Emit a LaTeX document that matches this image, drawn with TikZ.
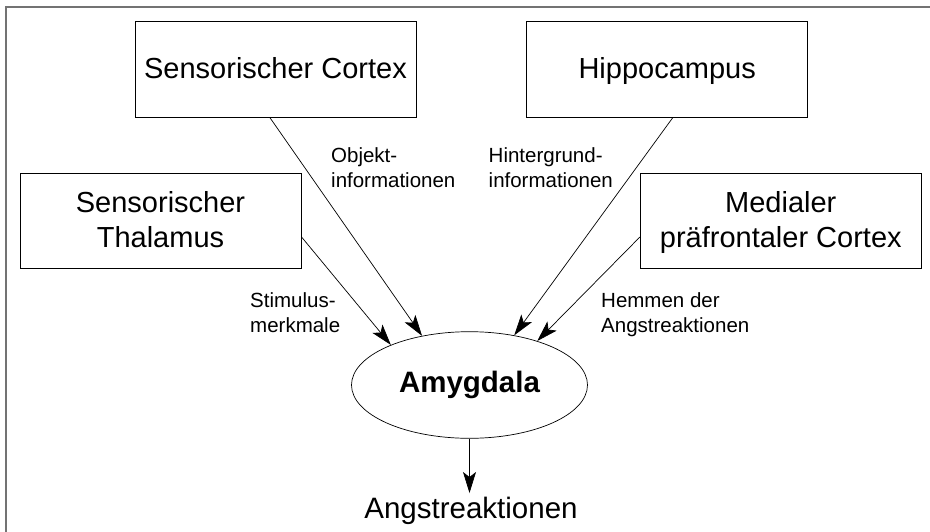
\documentclass[tikz,border=0pt]{standalone}
\usepackage{fontspec}
\setmainfont{Liberation Sans}
\usetikzlibrary{arrows.meta,shapes.geometric,calc}
\begin{document}
\begin{tikzpicture}[x=1pt,y=-1pt,
  box/.style={draw=black, line width=0.8pt, minimum width=281pt, minimum height=95.5pt,
    align=center, font=\fontsize{29}{35}\selectfont, text depth=0.25em, inner sep=0pt},
  lab/.style={align=left, font=\fontsize{20.5}{25}\selectfont, inner sep=0pt, anchor=north west},
  conn/.style={line width=0.7pt, -{Stealth[length=21pt,width=13pt,inset=5pt]}}]
\useasboundingbox (0,0) rectangle (930,531);
\draw[line width=2pt, black!55] (5.5,540) -- (5.5,6.5) -- (940,6.5);

\node[box] (cortex) at (275.5,69.6) {Sensorischer Cortex};
\node[box] (hippo) at (667.2,69.6) {Hippocampus};
\node[box] (thal) at (160.5,220.8) {Sensorischer\\Thalamus};
\node[box] (mpfc) at (780.8,221) {Medialer\\präfrontaler Cortex};
\node[ellipse, draw=black, line width=0.7pt, minimum width=236pt, minimum height=106.6pt,
  inner sep=0pt, font=\fontsize{29.5}{35}\selectfont\bfseries] (amy) at (469.5,385) {Amygdala};
\node[anchor=base, font=\fontsize{29.5}{35}\selectfont, inner sep=3.7pt] (angst) at (471,518.3) {Angstreaktionen};

\node[lab] (l1) at (331,147) {Objekt-\\informationen};
\node[lab] (l2) at (488.5,147.4) {Hintergrund-\\informationen};
\node[lab] (l3) at (250,292.4) {Stimulus-\\merkmale};
\node[lab] (l4) at (601,292.4) {Hemmen der\\Angstreaktionen};

\draw[conn] ([xshift=-5.5pt]cortex.south) -- (amy.134);
\draw[conn] ([xshift=5.5pt]hippo.south) -- (amy.48);
\draw[conn] ([yshift=-16pt]thal.east) -- (amy.153);
\draw[conn] ([yshift=-16pt]mpfc.west) -- (amy.33);
\draw[conn] (amy.south) -- (amy.south |- angst.north);
\end{tikzpicture}
\end{document}
